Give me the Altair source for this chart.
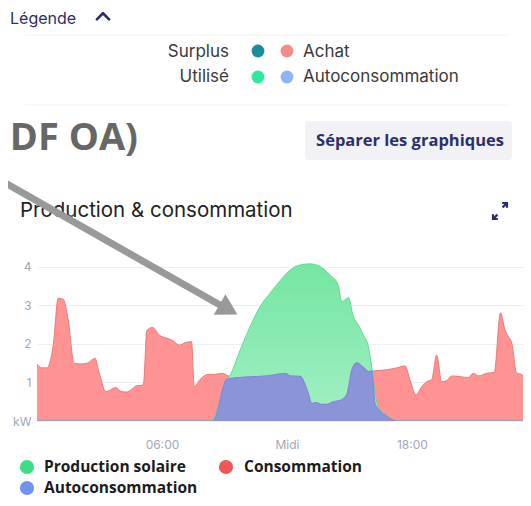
import altair as alt
import pandas as pd

# ---------------- data ----------------
cons_hours = [0.0, 0.23, 0.47, 0.78, 1.02, 1.26, 1.50, 1.78, 2.15, 2.46, 2.78, 2.99, 3.31, 3.50,
              3.79, 3.98, 4.27, 4.55, 4.79, 5.03, 5.12, 5.27, 5.55, 5.87, 6.23, 6.51, 6.83, 7.11,
              7.42, 7.55, 7.83, 8.22, 8.55, 8.87, 9.18, 9.75, 10.38, 11.03, 11.51, 11.91, 12.15,
              12.63, 12.78, 13.02, 13.19, 13.43, 13.67, 13.91, 14.22, 14.63, 14.87, 15.11, 15.35,
              15.59, 15.91, 16.15, 16.79, 17.27, 17.67, 17.91, 18.19, 18.47, 18.71, 18.95, 19.19,
              19.43, 19.67, 19.91, 20.31, 20.71, 20.95, 21.19, 21.59, 21.95, 22.25, 22.47, 22.63,
              22.79, 23.03, 23.27, 23.51, 23.72]
cons_kw = [1.48, 1.38, 1.38, 1.97, 3.19, 3.16, 2.62, 1.50, 1.48, 1.51, 1.63, 1.24, 0.76, 0.80,
           0.87, 0.78, 0.75, 0.82, 0.92, 0.92, 1.00, 2.35, 2.43, 2.23, 2.15, 2.09, 1.97, 2.03,
           2.06, 0.89, 1.08, 1.21, 1.21, 1.24, 1.17, 1.13, 1.15, 1.17, 1.21, 1.24, 1.17,
           1.16, 1.06, 0.72, 0.46, 0.48, 0.43, 0.43, 0.50, 0.55, 0.68, 1.32, 1.51,
           1.43, 1.28, 1.30, 1.33, 1.38, 1.43, 1.06, 0.68, 0.89, 1.02, 1.08, 1.71,
           1.02, 1.05, 1.17, 1.15, 1.13, 1.24, 1.17, 1.24, 1.26, 2.81, 2.36, 2.19,
           2.03, 1.24, 1.21, 1.03, 1.24]

prod_hours = [0.0, 8.40, 8.79, 9.11, 9.27, 9.75, 10.23, 10.71, 11.19, 11.67, 12.15, 12.63, 13.11,
              13.59, 14.07, 14.46, 14.63, 14.95, 15.19, 15.43, 15.67, 15.91, 16.07, 16.23, 16.39,
              16.71, 17.27, 23.72]
prod_kw = [0.0, 0.0, 0.55, 1.08, 1.19, 1.84, 2.45, 2.97, 3.32, 3.64, 3.92, 4.05, 4.08,
           4.01, 3.79, 3.53, 3.10, 3.20, 2.71, 2.49, 2.23, 1.93, 1.40, 0.73, 0.35,
           0.18, 0.0, 0.0]

auto_hours = [0.0, 8.46, 9.11, 9.75, 10.38, 11.03, 11.51, 11.91, 12.15, 12.63, 12.78, 13.02,
              13.19, 13.43, 13.67, 13.91, 14.22, 14.63, 14.87, 15.11, 15.35, 15.59, 15.91,
              16.07, 16.23, 16.39, 16.71, 17.27, 23.72]
auto_kw = [0.0, 0.0, 1.08, 1.13, 1.15, 1.17, 1.21, 1.24, 1.17, 1.16, 1.06, 0.72,
           0.46, 0.48, 0.43, 0.43, 0.50, 0.55, 0.68, 1.32, 1.51, 1.43, 1.28,
           1.30, 0.45, 0.30, 0.15, 0.0, 0.0]

x_tick_hours = [6, 12, 18]
x_tick_labels = ["06:00", "Midi", "18:00"]
y_ticks = [0, 1, 2, 3, 4]
y_zero_label = "kW"

legend_top_left = ["Surplus", "Utilisé"]
legend_top_right = ["Achat", "Autoconsommation"]
legend_bottom = ["Production solaire", "Consommation", "Autoconsommation"]

# ---------------- tables ----------------
cons_df = pd.DataFrame({"h": cons_hours, "kw": cons_kw})
prod_df = pd.DataFrame({"h": prod_hours, "kw": prod_kw})
auto_df = pd.DataFrame({"h": auto_hours, "kw": auto_kw})
dummy = pd.DataFrame({"k": [0]})

label_expr = " : ".join(
    f"datum.value == {h} ? '{l}'" for h, l in zip(x_tick_hours, x_tick_labels)
) + " : datum.label"

PLOT_W = 486
X_MAX = PLOT_W / 20.83

x_enc = alt.X("h:Q",
              scale=alt.Scale(domain=[0, X_MAX], nice=False, zero=False),
              axis=alt.Axis(values=x_tick_hours, labelExpr=label_expr, title=None,
                            grid=False, ticks=False, tickSize=0, domain=False,
                            labelBaseline="middle", labelPadding=23,
                            labelFont="Inter", labelFontSize=12, labelColor="#a3a7b8"))
y_enc = alt.Y("kw:Q",
              scale=alt.Scale(domain=[0, 4.31], nice=False),
              axis=alt.Axis(values=y_ticks,
                            labelExpr=f"datum.value == 0 ? '{y_zero_label}' : datum.label",
                            title=None, grid=True, gridColor="#eeeef2", gridWidth=1,
                            ticks=False, tickSize=0, domain=False, labelPadding=6,
                            labelFont="Inter", labelFontSize=12, labelColor="#a3a7b8"))

red = alt.Chart(cons_df).mark_area(
    color="#ff9393", opacity=1, interpolate="monotone", clip=True,
    line={"color": "#e77b79", "strokeWidth": 1}
).encode(x=x_enc, y=y_enc)

green_grad = alt.Gradient(gradient="linear",
                          stops=[alt.GradientStop(color="#74e6a2", offset=0),
                                 alt.GradientStop(color="#a2f0c3", offset=1)],
                          x1=1, x2=1, y1=0, y2=1)
green = alt.Chart(prod_df).mark_area(
    color=green_grad, opacity=1, interpolate="monotone", clip=True,
    line={"color": "#62da93", "strokeWidth": 1}
).encode(x="h:Q", y="kw:Q")

blue = alt.Chart(auto_df).mark_area(
    color="#8b94d9", opacity=1, interpolate="monotone", clip=True,
    line={"color": "#8089d2", "strokeWidth": 1.2}
).encode(x="h:Q", y="kw:Q")

# ---------------- decorations (plot origin = page (37,255)) ----------------
OX, OY = 37, 255


def P(px, py):
    return dict(x=alt.value(px - OX), y=alt.value(py - OY))


def text(label, px, py, align="left", size=15, weight="normal", color="#333333",
         font="Inter"):
    return alt.Chart(dummy).mark_text(
        text=label, align=align, baseline="middle", fontSize=size,
        fontWeight=weight, color=color, font=font
    ).encode(**P(px, py))


def dot(px, py, color, size):
    return alt.Chart(dummy).mark_point(
        shape="circle", filled=True, opacity=1, size=size, color=color
    ).encode(**P(px, py))


def hrule(px1, px2, py, color, width=1):
    return alt.Chart(dummy).mark_rule(color=color, strokeWidth=width).encode(
        x=alt.value(px1 - OX), x2=alt.value(px2 - OX),
        y=alt.value(py - OY))


deco = []
deco.append(text("Légende", 10, 19, size=16, color="#2b2d6b"))
deco.append(alt.Chart(dummy).mark_point(
    shape="M -1 0.55 L 0 -0.45 L 1 0.55", filled=False, size=150, color="#2b2d6b",
    strokeWidth=2.6, opacity=1, strokeCap="round", strokeJoin="round"
).encode(**P(103, 16)))
deco.append(hrule(25, 510, 35, "#f2f2f4"))
deco.append(hrule(25, 510, 105, "#f2f2f4"))

deco.append(text(legend_top_left[0], 229, 52, align="right", size=17, color="#3a3a3a"))
deco.append(text(legend_top_left[1], 229, 77, align="right", size=17, color="#3a3a3a"))
deco.append(text(legend_top_right[0], 303, 52, size=17, color="#3a3a3a"))
deco.append(text(legend_top_right[1], 303, 77, size=17, color="#3a3a3a"))
deco.append(dot(258, 51, "#1b8c9b", 165))
deco.append(dot(287, 51, "#f58c8c", 165))
deco.append(dot(258, 77, "#2fe89c", 165))
deco.append(dot(287, 77, "#8db6f8", 165))

deco.append(text("DF OA)", 138, 139, align="right", size=38, weight="bold",
                 color="#676767", font="Open Sans"))

deco.append(alt.Chart(dummy).mark_rect(color="#f1f1f6", cornerRadius=3).encode(
    x=alt.value(305 - OX), x2=alt.value(512 - OX),
    y=alt.value(121 - OY), y2=alt.value(160 - OY)))
deco.append(text("Séparer les graphiques", 410, 141, align="center", size=16.5,
                 weight="bold", color="#2b2f6b", font="Open Sans"))

deco.append(text("Production & consommation", 20, 211, size=20.5, color="#222222"))
deco.append(alt.Chart(dummy).mark_point(
    shape="M -0.2 -1 L 1 -1 L 1 0.2 M 1 -1 L -0.1 0.1", filled=False, size=64,
    color="#2b2d6b", strokeWidth=2.2, opacity=1
).encode(**P(503, 207)))
deco.append(alt.Chart(dummy).mark_point(
    shape="M 0.2 1 L -1 1 L -1 -0.2 M -1 1 L 0.1 -0.1", filled=False, size=64,
    color="#2b2d6b", strokeWidth=2.2, opacity=1
).encode(**P(497, 215)))

# bottom legend
deco.append(dot(27, 467, "#3ddd88", 200))
deco.append(text(legend_bottom[0], 44, 467, size=15.5, weight="bold", color="#1c1c1c",
                 font="Open Sans"))
deco.append(dot(226, 467, "#f05656", 200))
deco.append(text(legend_bottom[1], 244, 467, size=15.5, weight="bold", color="#1c1c1c",
                 font="Open Sans"))
deco.append(dot(27, 488, "#6e94f0", 200))
deco.append(text(legend_bottom[2], 44, 488, size=15.5, weight="bold", color="#1c1c1c",
                 font="Open Sans"))

# annotation arrow
deco.append(alt.Chart(dummy).mark_rule(color="#999999", strokeWidth=7).encode(
    x=alt.value(0 - OX), y=alt.value(180 - OY),
    x2=alt.value(220 - OX), y2=alt.value(305 - OY)))
deco.append(alt.Chart(dummy).mark_point(
    shape="triangle-right", filled=True, size=560, angle=29.6, color="#999999", opacity=1
).encode(**P(228.5, 309.5)))

chart = alt.layer(red, green, blue, *deco).properties(
    width=PLOT_W, height=166,
    padding={"left": 29, "top": 247, "right": 0, "bottom": 77},
    autosize=alt.AutoSizeParams(type="none"),
    background="white",
).configure_view(stroke=None)

chart.save("out.html", embed_options={"renderer": "svg", "actions": False})
